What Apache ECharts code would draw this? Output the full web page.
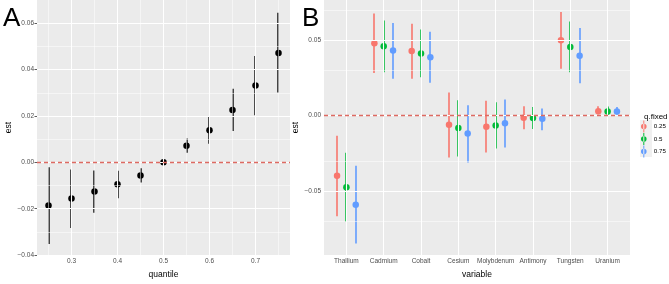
<!DOCTYPE html>
<html><head><meta charset="utf-8">
<script src="https://cdn.jsdelivr.net/npm/echarts@6/dist/echarts.min.js"></script>
<style>html,body{margin:0;padding:0;background:#fff}#c{width:669px;height:284px}</style>
</head><body><div id="c"></div>
<script>
// ---- Panel A data ----
const quantiles = [0.25,0.30,0.35,0.40,0.45,0.50,0.55,0.60,0.65,0.70,0.75];
const estA =   [-0.0186,-0.0156,-0.0126,-0.0094,-0.0057,0.0000,0.0072,0.0138,0.0226,0.0331,0.0471];
const lowerA = [-0.0352,-0.0283,-0.0217,-0.0155,-0.0087,0.0000,0.0041,0.0080,0.0135,0.0203,0.0301];
const upperA = [-0.0021,-0.0031,-0.0035,-0.0036,-0.0025,0.0000,0.0103,0.0196,0.0317,0.0458,0.0645];
const xTicksA = [0.3,0.4,0.5,0.6,0.7];
const xMinorA = [0.25,0.35,0.45,0.55,0.65,0.75];
const yTicksA = [-0.04,-0.02,0.00,0.02,0.04,0.06];
const yMinorA = [-0.03,-0.01,0.01,0.03,0.05];

// ---- Panel B data ----
const variables = ['Thallium','Cadmium','Cobalt','Cesium','Molybdenum','Antimony','Tungsten','Uranium'];
const groups = ['0.25','0.5','0.75'];
const est025 = [-0.0398,0.0479,0.0428,-0.0061,-0.0074,-0.0015,0.0498,0.0028];
const lo025  = [-0.0667,0.0281,0.0243,-0.0277,-0.0245,-0.0091,0.0309,0.0009];
const hi025  = [-0.0134,0.0675,0.0607,0.0153,0.0098,0.0062,0.0686,0.0062];
const est05  = [-0.0475,0.0458,0.0411,-0.0083,-0.0066,-0.0017,0.0454,0.0026];
const lo05   = [-0.0703,0.0286,0.0254,-0.0272,-0.0219,-0.0089,0.0286,0.0006];
const hi05   = [-0.0247,0.0629,0.0569,0.0102,0.0088,0.0056,0.0622,0.0060];
const est075 = [-0.0590,0.0431,0.0386,-0.0119,-0.0051,-0.0021,0.0396,0.0026];
const lo075  = [-0.0847,0.0243,0.0217,-0.0311,-0.0211,-0.0098,0.0213,0.0005];
const hi075  = [-0.0332,0.0612,0.0554,0.0068,0.0107,0.0047,0.0580,0.0056];
const yTicksB = [-0.05,0.00,0.05];
const yMinorB = [-0.075,-0.025,0.025,0.075];

const colors = ['#F8766D','#00BA38','#619CFF'];
const dodge = [-0.25,0,0.25];
const FONT = '"Liberation Sans", Arial, sans-serif';

const fmt = v => (v < 0 ? '\u2212' : '') + Math.abs(v).toFixed(2);

function gridLines(xMaj, xMin, yMaj, yMin) {
  const d = [];
  xMin.forEach(v => d.push({xAxis: v, lineStyle:{color:'#fff', width:0.5, type:'solid'}}));
  yMin.forEach(v => d.push({yAxis: v, lineStyle:{color:'#fff', width:0.5, type:'solid'}}));
  xMaj.forEach(v => d.push({xAxis: v, lineStyle:{color:'#fff', width:1.1, type:'solid'}}));
  yMaj.forEach(v => d.push({yAxis: v, lineStyle:{color:'#fff', width:1.1, type:'solid'}}));
  return d;
}

function errRender(params, api) {
  const x = api.value(0), lo = api.value(1), hi = api.value(2);
  const p1 = api.coord([x, lo]), p2 = api.coord([x, hi]);
  const cx = Math.round(p1[0]);
  const top = Math.min(p1[1], p2[1]), h = Math.abs(p1[1] - p2[1]);
  return {type:'rect', shape:{x: cx - 0.8, y: top, width: 1.6, height: h},
          style:{fill: api.visual('color')}};
}

const axisLabelStyle = {color:'#4D4D4D', fontSize:6.5, fontFamily:FONT};
const tickStyle = {show:true, length:2.5, lineStyle:{color:'#333', width:0.8}};

const series = [];
// Panel A gridlines
series.push({type:'line', xAxisIndex:0, yAxisIndex:0, data:[], silent:true, z:1,
  markLine:{silent:true, symbol:'none', label:{show:false}, animation:false,
    data: gridLines(xTicksA, xMinorA, yTicksA, yMinorA)}});
// Panel A error bars
series.push({type:'custom', xAxisIndex:0, yAxisIndex:0, z:3, itemStyle:{color:'#1a1a1a'},
  renderItem: errRender, encode:{x:0, y:[1,2]},
  data: quantiles.map((q,i) => [q, lowerA[i], upperA[i]])});
// Panel A points
series.push({type:'scatter', xAxisIndex:0, yAxisIndex:0, z:4, symbolSize:6.5,
  itemStyle:{color:'#000', opacity:1}, data: quantiles.map((q,i) => [q, estA[i]])});
// Panel A zero line
series.push({type:'line', xAxisIndex:0, yAxisIndex:0, data:[], silent:true, z:5,
  markLine:{silent:true, symbol:'none', label:{show:false}, animation:false,
    data:[{yAxis:0, lineStyle:{color:'#DD6A62', width:1.4, type:[4,3]}}]}});

// Panel B gridlines
series.push({type:'line', xAxisIndex:1, yAxisIndex:1, data:[], silent:true, z:1,
  markLine:{silent:true, symbol:'none', label:{show:false}, animation:false,
    data: gridLines(variables.map((v,i)=>i), [], yTicksB, yMinorB)}});
// Panel B zero line
series.push({type:'line', xAxisIndex:1, yAxisIndex:1, data:[], silent:true, z:2,
  markLine:{silent:true, symbol:'none', label:{show:false}, animation:false,
    data:[{yAxis:0, lineStyle:{color:'#DD6A62', width:1.4, type:[4,3]}}]}});

const estB = [est025, est05, est075], loB = [lo025, lo05, lo075], hiB = [hi025, hi05, hi075];
groups.forEach((g, k) => {
  series.push({type:'custom', name:g, xAxisIndex:1, yAxisIndex:1, z:3, itemStyle:{color:colors[k]},
    renderItem: errRender, encode:{x:0, y:[1,2]},
    data: variables.map((v,i) => [i + dodge[k], loB[k][i], hiB[k][i]])});
  series.push({type:'scatter', name:g, xAxisIndex:1, yAxisIndex:1, z:4, symbolSize:6.5,
    itemStyle:{color:colors[k], opacity:1},
    data: variables.map((v,i) => [i + dodge[k], estB[k][i]])});
});

const chart = echarts.init(document.getElementById('c'), null, {renderer:'canvas'});
chart.setOption({
  animation:false,
  backgroundColor:'#fff',
  textStyle:{fontFamily:FONT},
  title:[
    {text:'A', left:-2, top:1, textStyle:{fontSize:26, fontWeight:'normal', color:'#000', fontFamily:FONT}},
    {text:'B', left:297, top:1, textStyle:{fontSize:26, fontWeight:'normal', color:'#000', fontFamily:FONT}},
    {text:'q.fixed', left:639, top:108, textStyle:{fontSize:8, fontWeight:'normal', color:'#000', fontFamily:FONT}}
  ],
  graphic:[
    {type:'rect', left:640, top:120, shape:{width:12, height:37}, style:{fill:'#F0F0F0'}, silent:true, z:0}
  ],
  legend:{
    data: groups, orient:'vertical', left:641, top:120.5, itemWidth:10, itemHeight:12, itemGap:0.5,
    icon:'path://M4.5,0h1v12h-1z M5,3.2a2.8,2.8 0 1,0 0.001,0z',
    textStyle:{fontSize:6.2, color:'#000', fontFamily:FONT},
    selectedMode:false, padding:0
  },
  grid:[
    {left:37, top:0, width:253, height:266, show:true, backgroundColor:'#EBEBEB', borderWidth:0},
    {left:324, top:0, width:306, height:265, show:true, backgroundColor:'#EBEBEB', borderWidth:0}
  ],
  xAxis:[
    {type:'value', gridIndex:0, min:0.225, max:0.775,
     name:'quantile', nameLocation:'middle', nameGap:8,
     nameTextStyle:{fontSize:8.5, color:'#000', fontFamily:FONT, verticalAlign:'top'},
     axisLine:{show:false}, splitLine:{show:false},
     axisTick:Object.assign({customValues:xTicksA}, tickStyle),
     axisLabel:Object.assign({customValues:xTicksA, margin:3, formatter:v=>v.toFixed(1)}, axisLabelStyle)},
    {type:'value', gridIndex:1, min:-0.6, max:7.6,
     name:'variable', nameLocation:'middle', nameGap:9,
     nameTextStyle:{fontSize:8.5, color:'#000', fontFamily:FONT, verticalAlign:'top'},
     axisLine:{show:false}, splitLine:{show:false},
     axisTick:Object.assign({customValues:variables.map((v,i)=>i)}, tickStyle),
     axisLabel:Object.assign({customValues:variables.map((v,i)=>i), margin:3, formatter:v=>variables[Math.round(v)]}, axisLabelStyle)}
  ],
  yAxis:[
    {type:'value', gridIndex:0, min:-0.04, max:0.07,
     name:'est', nameLocation:'middle', nameGap:19, nameRotate:90,
     nameTextStyle:{fontSize:8.5, color:'#000', fontFamily:FONT},
     axisLine:{show:false}, splitLine:{show:false},
     axisTick:Object.assign({customValues:yTicksA}, tickStyle),
     axisLabel:Object.assign({customValues:yTicksA, margin:3, formatter:fmt}, axisLabelStyle)},
    {type:'value', gridIndex:1, min:-0.0924, max:0.0765,
     name:'est', nameLocation:'middle', nameGap:19, nameRotate:90,
     nameTextStyle:{fontSize:8.5, color:'#000', fontFamily:FONT},
     axisLine:{show:false}, splitLine:{show:false},
     axisTick:Object.assign({customValues:yTicksB}, tickStyle),
     axisLabel:Object.assign({customValues:yTicksB, margin:3, formatter:fmt}, axisLabelStyle)}
  ],
  series: series
});
</script>
</body></html>
